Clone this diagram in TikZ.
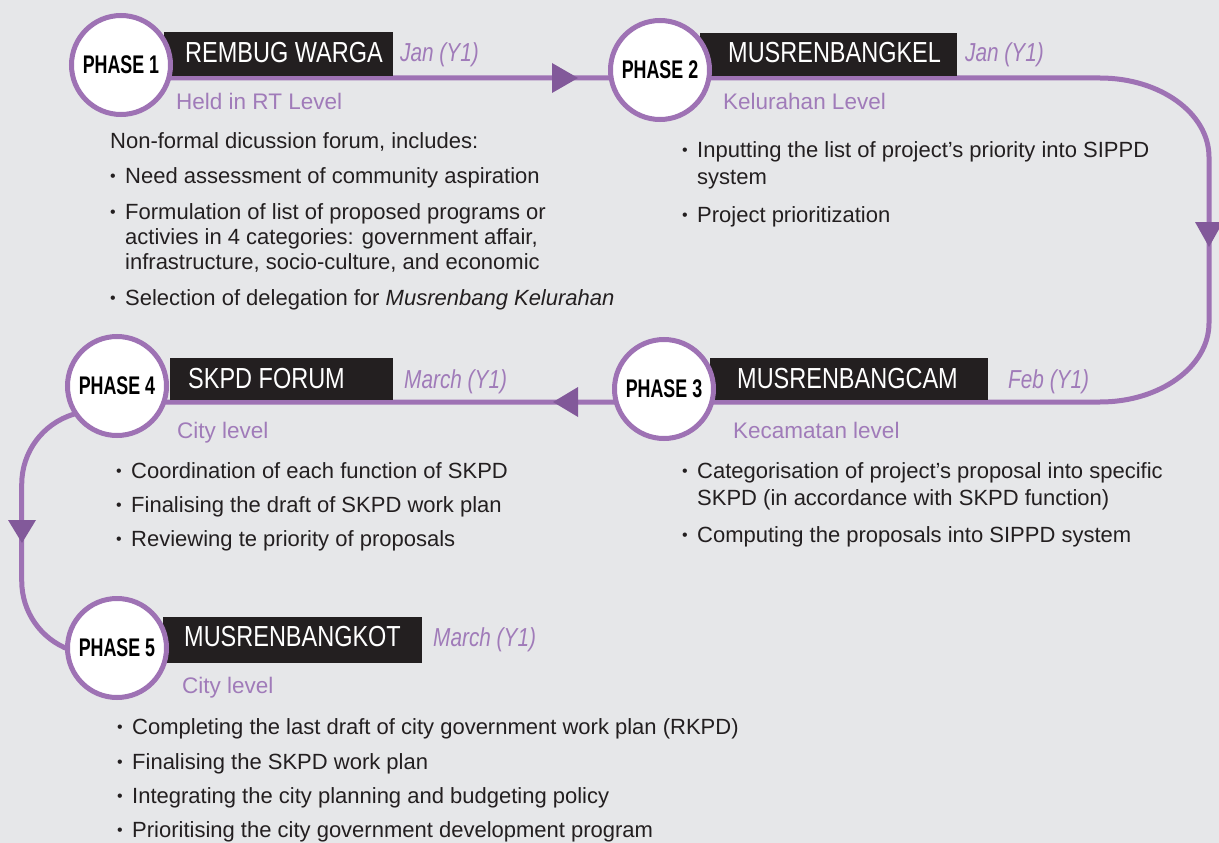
\documentclass[tikz,border=0pt]{standalone}
\usepackage{fontspec}
\setmainfont{Liberation Sans}
\newfontfamily\titlefont[FakeStretch=0.81]{Liberation Sans}
\newfontfamily\phasefont[FakeStretch=0.70]{Liberation Sans Bold}
\newfontfamily\datefont[FakeStretch=0.80]{Liberation Sans Italic}

\definecolor{bgcol}{HTML}{E6E7E9}
\definecolor{trackcol}{HTML}{9E72B4}
\definecolor{tipcol}{HTML}{82599A}
\definecolor{labelcol}{HTML}{A07BB9}
\definecolor{inkcol}{HTML}{231F20}

\pgfdeclarelayer{paper}
\pgfdeclarelayer{trackbg}
\pgfsetlayers{paper,trackbg,main}

\tikzset{
  phase/.style={circle, draw=trackcol, line width=5pt, fill=white,
    minimum size=99pt, inner sep=0pt, text=black,
    font=\phasefont\fontsize{25.5}{25.5}\selectfont},
  titlebox/.style={fill=inkcol, inner sep=0pt, anchor=north west},
  titletext/.style={text=white, inner sep=0pt, anchor=base west,
    font=\titlefont\fontsize{29}{29}\selectfont},
  datetext/.style={text=labelcol, inner sep=0pt, anchor=base west,
    font=\datefont\fontsize{26}{26}\selectfont},
  leveltext/.style={text=labelcol, inner sep=0pt, anchor=base west,
    font=\fontsize{22.5}{22.5}\selectfont},
  bodytext/.style={text=inkcol, inner sep=0pt, anchor=base west,
    font=\fontsize{22}{22}\selectfont},
  bulletmark/.style={text=inkcol, inner sep=0pt, anchor=base east,
    font=\fontsize{16}{16}\selectfont},
  track/.style={draw=trackcol, line width=5pt},
  tip/.style={fill=tipcol},
}

% one bulleted line: name, x, baseline y, text
\newcommand{\itemline}[4]{%
  \node[bodytext] (#1) at (#2,#3) {#4};
  \node[bulletmark] (#1-dot) at ([xshift=-9pt,yshift=1.5pt]#1.base west) {\textbullet};}

\begin{document}
\begin{tikzpicture}[x=1pt, y=-1pt]
  \begin{pgfonlayer}{paper}
    \fill[bgcol] (0,0) rectangle (1219,843);
  \end{pgfonlayer}
  \useasboundingbox (0,0) rectangle (1219,843);

  % title bars
  \node[titlebox, minimum width=229pt, minimum height=44pt] (b1) at (164,32) {};
  \node[titlebox, minimum width=257pt, minimum height=43pt] (b2) at (700,33) {};
  \node[titlebox, minimum width=278pt, minimum height=42pt] (b3) at (710,358) {};
  \node[titlebox, minimum width=223pt, minimum height=42pt] (b4) at (170,358) {};
  \node[titlebox, minimum width=259pt, minimum height=46pt] (b5) at (163,617) {};

  \node[titletext] (t1) at (185,63) {REMBUG WARGA};
  \node[titletext] (t2) at (728,63) {MUSRENBANGKEL};
  \node[titletext] (t3) at (737,388) {MUSRENBANGCAM};
  \node[titletext] (t4) at (188,388) {SKPD FORUM};
  \node[titletext] (t5) at (184,646) {MUSRENBANGKOT};

  % phase discs
  \node[phase] (p1) at (121,65) {PHASE 1};
  \node[phase] (p2) at (660,70) {PHASE 2};
  \node[phase] (p3) at (664,389) {PHASE 3};
  \node[phase] (p4) at (117,386) {PHASE 4};
  \node[phase] (p5) at (117,648) {PHASE 5};

  % the track running through the phases
  \coordinate (topline) at (0,78);
  \coordinate (botline) at (0,402);
  \begin{pgfonlayer}{trackbg}
    \draw[track] (p1 |- topline) -- (1100,78)
      arc[start angle=-90, end angle=0, x radius=109, y radius=79]
      -- (1209,323)
      arc[start angle=0, end angle=90, x radius=109, y radius=79]
      -- (p4 |- botline);
    \draw[track] (p4.center) -- (p4.213)
      arc[start angle=253, end angle=180, radius=73]
      -- ++(0,97)
      arc[start angle=180, end angle=110, radius=73]
      -- (p5.center);
  \end{pgfonlayer}

  % direction marks on the track
  \fill[tip] (552,63) -- (578,78) -- (552,93) -- cycle;
  \fill[tip] (1195,222) -- (1209,247) -- (1223,222) -- cycle;
  \fill[tip] (578,387) -- (553,402) -- (578,417) -- cycle;
  \fill[tip] (8,520) -- (22,543) -- (36,520) -- cycle;

  % dates
  \node[datetext] (d1) at (400,62) {Jan (Y1)};
  \node[datetext] (d2) at (965,62) {Jan (Y1)};
  \node[datetext] (d3) at (1008,388) {Feb (Y1)};
  \node[datetext] (d4) at (404,388) {March (Y1)};
  \node[datetext] (d5) at (433,646) {March (Y1)};

  % levels
  \node[leveltext] (l1) at (176,110) {Held in RT Level};
  \node[leveltext] (l2) at (723,110) {Kelurahan Level};
  \node[leveltext] (l3) at (733,438) {Kecamatan level};
  \node[leveltext] (l4) at (177,438) {City level};
  \node[leveltext] (l5) at (182,693) {City level};

  % phase 1 activities
  \node[bodytext] (s1) at (110,148) {Non-formal dicussion forum, includes:};
  \itemline{s1a}{125}{183}{Need assessment of community aspiration}
  \itemline{s1b}{125}{219}{Formulation of list of proposed programs or}
  \node[bodytext] (s1b2) at (125,244) {activies in 4 categories: government affair,};
  \node[bodytext] (s1b3) at (125,269) {infrastructure, socio-culture, and economic};
  \itemline{s1c}{125}{305}{Selection of delegation for \textit{Musrenbang Kelurahan}}

  % phase 2 activities
  \itemline{s2a}{697}{157}{Inputting the list of project’s priority into SIPPD}
  \node[bodytext] (s2a2) at (697,184) {system};
  \itemline{s2b}{697}{222}{Project prioritization}

  % phase 3 activities
  \itemline{s3a}{697}{478}{Categorisation of project’s proposal into specific}
  \node[bodytext] (s3a2) at (697,505) {SKPD (in accordance with SKPD function)};
  \itemline{s3b}{697}{542}{Computing the proposals into SIPPD system}

  % phase 4 activities
  \itemline{s4a}{131}{478}{Coordination of each function of SKPD}
  \itemline{s4b}{131}{512}{Finalising the draft of SKPD work plan}
  \itemline{s4c}{131}{546}{Reviewing te priority of proposals}

  % phase 5 activities
  \itemline{s5a}{132}{734}{Completing the last draft of city government work plan (RKPD)}
  \itemline{s5b}{132}{769}{Finalising the SKPD work plan}
  \itemline{s5c}{132}{803}{Integrating the city planning and budgeting policy}
  \itemline{s5d}{132}{837}{Prioritising the city government development program}
\end{tikzpicture}
\end{document}
